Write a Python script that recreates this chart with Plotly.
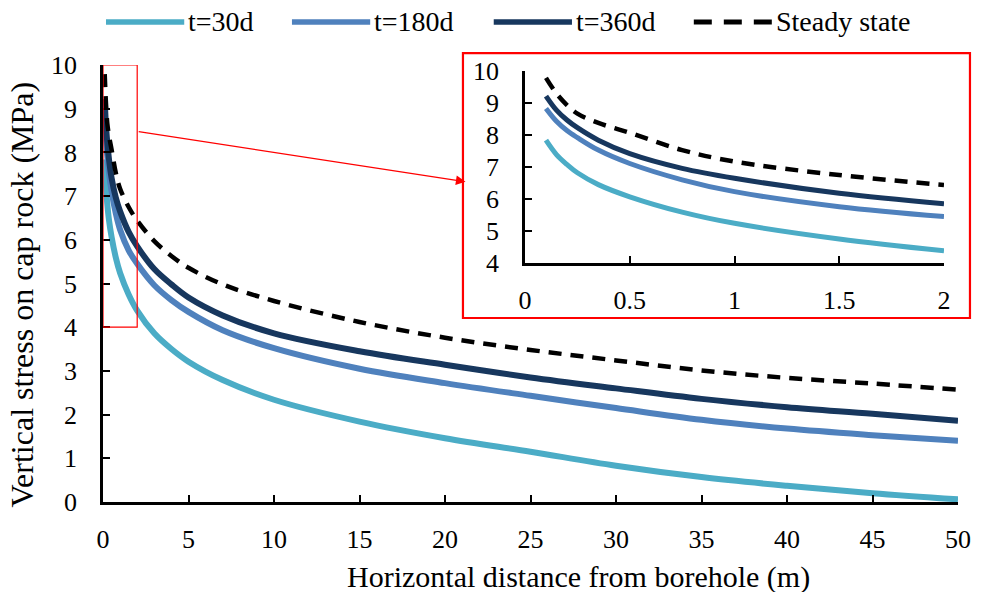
import plotly.graph_objects as go

# ---- data ----
distance_m = [0.1, 0.15, 0.2, 0.25, 0.35, 0.5, 0.75, 1, 1.5, 2, 3, 4, 5, 7, 10, 15, 20, 25, 30, 35, 40, 45, 50]
stress_30d = [7.84, 7.39, 7.08, 6.82, 6.45, 6.07, 5.59, 5.24, 4.75, 4.38, 3.86, 3.50, 3.21, 2.79, 2.34, 1.84, 1.46, 1.15, 0.83, 0.57, 0.37, 0.20, 0.06]
stress_180d = [8.83, 8.43, 8.14, 7.92, 7.53, 7.11, 6.60, 6.23, 5.76, 5.45, 4.96, 4.62, 4.35, 3.93, 3.52, 3.05, 2.72, 2.43, 2.15, 1.88, 1.68, 1.53, 1.40]
stress_360d = [9.22, 8.78, 8.47, 8.23, 7.84, 7.42, 6.96, 6.65, 6.18, 5.85, 5.33, 4.98, 4.68, 4.27, 3.86, 3.45, 3.14, 2.85, 2.60, 2.36, 2.17, 2.02, 1.86]
stress_steady = [9.79, 9.30, 8.94, 8.67, 8.38, 8.07, 7.53, 7.17, 6.75, 6.44, 5.97, 5.63, 5.36, 4.98, 4.60, 4.12, 3.76, 3.48, 3.24, 3.01, 2.84, 2.71, 2.57]

series_names = ["t=30d", "t=180d", "t=360d", "Steady state"]
series_values = [stress_30d, stress_180d, stress_360d, stress_steady]
series_colors = ["#4BACC6", "#4F81BD", "#17375E", "#000000"]
series_dash = ["solid", "solid", "solid", "13px,9px"]

main_xticks = [0, 5, 10, 15, 20, 25, 30, 35, 40, 45, 50]
main_yticks = list(range(0, 11))
inset_xticks = [0, 0.5, 1, 1.5, 2]
inset_xlabels = ["0", "0.5", "1", "1.5", "2"]
inset_yticks = list(range(4, 11))

# legend key placement (fractions of the plot area)
legend_key_x0 = [0.0035, 0.221, 0.457, 0.691]
legend_key_len = 0.0915
legend_y = 1.0984

FONT = "Liberation Serif, Times New Roman, serif"

fig = go.Figure()

for name, vals, col, dash in zip(series_names, series_values, series_colors, series_dash):
    width = 4.5 if dash != "solid" else 6
    fig.add_trace(go.Scatter(x=distance_m, y=vals, mode="lines", name=name, showlegend=False,
                             line=dict(color=col, width=width, dash=dash, shape="spline", smoothing=1.0),
                             xaxis="x", yaxis="y"))
for name, vals, col, dash in zip(series_names, series_values, series_colors, series_dash):
    xs = [d for d in distance_m if d <= 2]
    ys = [v for d, v in zip(distance_m, vals) if d <= 2]
    width = 4.5 if dash != "solid" else 5
    fig.add_trace(go.Scatter(x=xs, y=ys, mode="lines", name=name, showlegend=False,
                             line=dict(color=col, width=width, dash=dash, shape="spline", smoothing=1.0),
                             xaxis="x2", yaxis="y2"))

axis_common = dict(showgrid=False, zeroline=False, showline=True, linecolor="black",
                   linewidth=2.5, ticks="inside", ticklen=7, tickwidth=2, tickcolor="black",
                   tickfont=dict(family=FONT, size=26, color="black"))

fig.update_layout(
    width=983, height=592,
    margin=dict(l=103, r=25, t=65, b=90, autoexpand=False),
    paper_bgcolor="white", plot_bgcolor="rgba(0,0,0,0)",
    xaxis=dict(range=[0, 50], tickvals=main_xticks, ticklabelstandoff=12, **axis_common),
    yaxis=dict(range=[0, 10], tickvals=main_yticks, ticklabelstandoff=18, **axis_common),
    xaxis2=dict(range=[0, 2], tickvals=inset_xticks, ticktext=inset_xlabels, domain=[0.4936, 0.9836],
                anchor="y2", ticklabelstandoff=12, **axis_common),
    yaxis2=dict(range=[4, 10], tickvals=inset_yticks, domain=[0.547, 0.986], anchor="x2",
                ticklabelstandoff=18, **axis_common),
    showlegend=False,
)

# legend (keys + labels)
for name, col, dash, x0 in zip(series_names, series_colors, series_dash, legend_key_x0):
    fig.add_shape(type="line", xref="paper", yref="paper", x0=x0, x1=x0 + legend_key_len,
                  y0=legend_y, y1=legend_y,
                  line=dict(color=col, width=5.5 if dash == "solid" else 5,
                            dash="solid" if dash == "solid" else "18px,12px"))
    fig.add_annotation(xref="paper", yref="paper", x=x0 + legend_key_len + 0.002, y=legend_y,
                       xanchor="left", yanchor="middle", text=name, showarrow=False,
                       font=dict(family=FONT, size=28, color="black"))

# zoom window on main chart
fig.add_shape(type="rect", xref="x", yref="y", x0=0, x1=2, y0=4, y1=10,
              line=dict(color="#FF0000", width=1.2))
# inset frame
fig.add_shape(type="rect", xref="paper", yref="paper", x0=0.421, x1=1.014, y0=0.421, y1=1.027,
              line=dict(color="#FF0000", width=2.2))
# arrow
fig.add_annotation(xref="x", yref="y", axref="x", ayref="y", x=21.2, y=7.33, ax=2.0, ay=8.48,
                   showarrow=True, arrowhead=2, arrowsize=1.6, arrowwidth=1.2, arrowcolor="#FF0000", text="")

# axis titles
fig.add_annotation(xref="paper", yref="paper", x=0.556, y=-0.172, yanchor="middle", xanchor="center",
                   text="Horizontal distance from borehole (m)", showarrow=False,
                   font=dict(family=FONT, size=30, color="black"))
fig.add_annotation(xref="paper", yref="paper", x=-0.0947, y=0.475, xanchor="center", yanchor="middle",
                   text="Vertical stress on cap rock (MPa)", showarrow=False, textangle=-90,
                   font=dict(family=FONT, size=32, color="black"))

fig.write_html("out.html", config={"displayModeBar": False},
               post_script="document.body.style.margin='0px';")
